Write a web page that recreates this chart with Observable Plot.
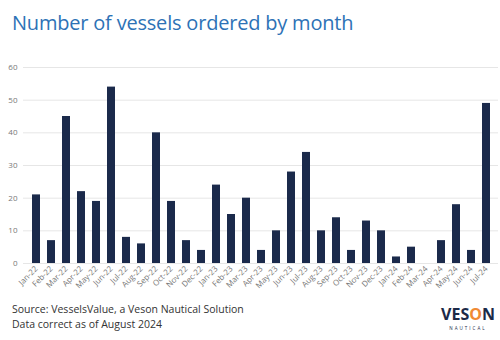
<!DOCTYPE html>
<html><head><meta charset="utf-8">
<script src="https://cdn.jsdelivr.net/npm/d3@7"></script>
<script src="https://cdn.jsdelivr.net/npm/@observablehq/plot@0.6"></script>
<style>
body{margin:0;background:#fff;font-family:"Open Sans",sans-serif;}
#wrap{position:relative;width:500px;height:340px;overflow:hidden;}
#title{position:absolute;left:12px;top:9px;font-size:20px;color:#2d72b6;letter-spacing:-0.2px;white-space:nowrap;}
#chart{position:absolute;left:0;top:55px;}
#foot{position:absolute;left:12px;top:302px;font-size:10.5px;color:#333;line-height:15px;}
#logo{position:absolute;left:440px;top:303px;width:56px;text-align:center;}
#logo .v{font-size:16px;font-weight:700;color:#1c2a48;line-height:22px;white-space:nowrap;}
#logo .o{color:#f08a34;}
#logo .n{font-size:4.5px;letter-spacing:2px;color:#1c2a48;line-height:7px;white-space:nowrap;}
</style></head><body>
<div id="wrap">
<div id="title">Number of vessels ordered by month</div>
<div id="chart"></div>
<div id="foot">Source: VesselsValue, a Veson Nautical Solution<br>Data correct as of August 2024</div>
<div id="logo"><div class="v">VES<span class="o">O</span>N</div><div class="n">NAUTICAL</div></div>
</div>
<script>
const months = ["Jan-22","Feb-22","Mar-22","Apr-22","May-22","Jun-22","Jul-22","Aug-22","Sep-22","Oct-22","Nov-22","Dec-22",
"Jan-23","Feb-23","Mar-23","Apr-23","May-23","Jun-23","Jul-23","Aug-23","Sep-23","Oct-23","Nov-23","Dec-23",
"Jan-24","Feb-24","Mar-24","Apr-24","May-24","Jun-24","Jul-24"];
const vessels = [21,7,45,22,19,54,8,6,40,19,7,4,24,15,20,4,10,28,34,10,14,4,13,10,2,5,0,7,18,4,49];
const yTicks = [0,10,20,30,40,50,60];
const data = months.map((m,i)=>({month:m, value:vessels[i]}));
const chart = Plot.plot({
  width:500, height:240,
  marginTop:12, marginBottom:32, marginLeft:23, marginRight:2,
  style:{fontFamily:"Open Sans, sans-serif", fontSize:"8px", color:"#777", background:"transparent"},
  x:{domain:months, paddingInner:0.5, paddingOuter:0.25, label:null, tickSize:0, tickRotate:-45, tickPadding:4},
  y:{domain:[0,60], ticks:yTicks, label:null, tickSize:0, tickPadding:6},
  marks:[
    Plot.gridY(yTicks,{stroke:"#e6e6e6", strokeOpacity:1}),
    Plot.barY(data,{x:"month", y:"value", fill:"#1b2a4b"}),
  ]
});
document.getElementById("chart").appendChild(chart);
</script>
</body></html>
